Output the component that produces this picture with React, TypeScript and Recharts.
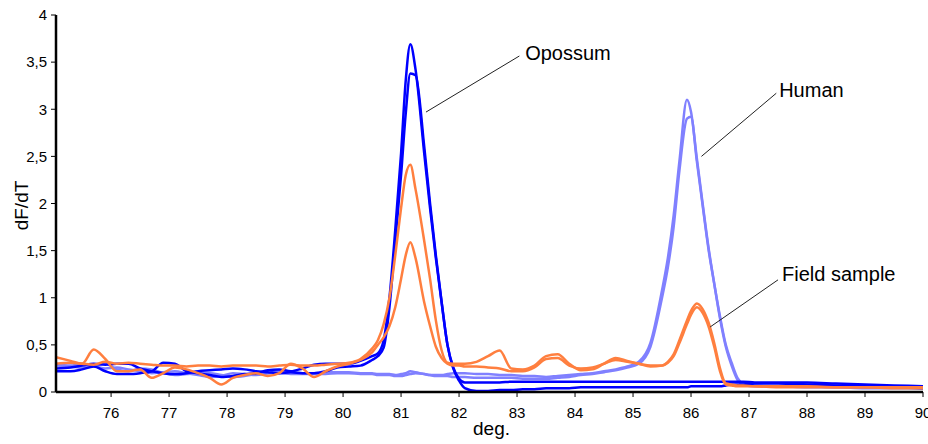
import React from 'react';
import { LineChart, Line, XAxis, YAxis, ReferenceLine, ReferenceDot, Label } from 'recharts';

const temps = [
  75.05, 75.3, 75.5, 75.7, 75.9, 76.1, 76.3, 76.5, 76.7, 76.9,
  77.1, 77.3, 77.5, 77.7, 77.9, 78.1, 78.3, 78.5, 78.7, 78.9,
  79.1, 79.3, 79.5, 79.7, 79.9, 80.1, 80.3, 80.5, 80.6, 80.7,
  80.8, 80.9, 81.0, 81.08, 81.16, 81.25, 81.4, 81.5, 81.6, 81.7,
  81.8, 81.9, 82.0, 82.1, 82.3, 82.5, 82.7, 82.9, 83.1, 83.3,
  83.5, 83.7, 83.9, 84.1, 84.3, 84.5, 84.7, 84.9, 85.1, 85.3,
  85.5, 85.6, 85.7, 85.8, 85.93, 86.0, 86.1, 86.2, 86.3, 86.4,
  86.5, 86.6, 86.7, 86.8, 86.9, 87.1, 87.5, 88.0, 88.5, 89.0,
  89.5, 90.0,
];

const opossum1 = [
  0.22, 0.22, 0.24, 0.27, 0.22, 0.19, 0.19, 0.2, 0.22, 0.31,
  0.3, 0.22, 0.2, 0.18, 0.16, 0.17, 0.19, 0.2, 0.23, 0.24,
  0.22, 0.25, 0.29, 0.3, 0.3, 0.3, 0.33, 0.38, 0.41, 0.55,
  1.0, 1.72, 2.53, 3.3, 3.69, 3.42, 2.53, 1.95, 1.42, 0.95,
  0.5, 0.25, 0.12, 0.04, 0.01, 0.01, 0.02, 0.02, 0.03, 0.03,
  0.04, 0.04, 0.04, 0.05, 0.05, 0.05, 0.05, 0.05, 0.05, 0.05,
  0.05, 0.05, 0.05, 0.05, 0.05, 0.06, 0.06, 0.06, 0.06, 0.06,
  0.06, 0.07, 0.08, 0.08, 0.08, 0.09, 0.09, 0.08, 0.07, 0.06,
  0.05, 0.04,
];

const opossum2 = [
  0.25, 0.26, 0.28, 0.3, 0.29, 0.3, 0.3, 0.25, 0.22, 0.2,
  0.19, 0.2, 0.22, 0.23, 0.24, 0.25, 0.24, 0.22, 0.21, 0.2,
  0.21, 0.2, 0.2, 0.22, 0.26, 0.27, 0.28, 0.34, 0.38, 0.47,
  0.9, 1.6, 2.3, 2.95, 3.38, 3.36, 2.6, 2.0, 1.45, 0.95,
  0.5, 0.26, 0.14, 0.1, 0.1, 0.1, 0.1, 0.11, 0.11, 0.11,
  0.11, 0.11, 0.11, 0.11, 0.11, 0.11, 0.11, 0.11, 0.11, 0.11,
  0.11, 0.11, 0.11, 0.11, 0.11, 0.11, 0.11, 0.11, 0.11, 0.11,
  0.11, 0.11, 0.11, 0.11, 0.11, 0.1, 0.1, 0.1, 0.09, 0.08,
  0.07, 0.06,
];

const human1 = [
  0.28, 0.27, 0.26, 0.27, 0.25, 0.26, 0.24, 0.22, 0.2, 0.21,
  0.22, 0.2, 0.18, 0.16, 0.17, 0.2, 0.19, 0.18, 0.2, 0.22,
  0.21, 0.2, 0.2, 0.21, 0.21, 0.21, 0.2, 0.2, 0.19, 0.19,
  0.19, 0.18, 0.19, 0.2, 0.22, 0.21, 0.19, 0.18, 0.18, 0.18,
  0.19, 0.2, 0.2, 0.2, 0.19, 0.19, 0.18, 0.18, 0.17, 0.17,
  0.16, 0.17, 0.18, 0.19, 0.2, 0.22, 0.24, 0.27, 0.32, 0.52,
  1.08, 1.42, 1.87, 2.45, 3.1, 2.97, 2.48, 2.0, 1.54, 1.15,
  0.78, 0.48, 0.28, 0.13, 0.08, 0.06, 0.06, 0.05, 0.05, 0.04,
  0.04, 0.04,
];

const human2 = [
  0.3, 0.28, 0.3, 0.28, 0.3, 0.24, 0.22, 0.25, 0.24, 0.2,
  0.18, 0.19, 0.2, 0.2, 0.18, 0.16, 0.17, 0.19, 0.2, 0.2,
  0.19, 0.19, 0.19, 0.19, 0.2, 0.2, 0.19, 0.19, 0.18, 0.18,
  0.18, 0.17, 0.17, 0.18, 0.19, 0.2, 0.19, 0.18, 0.17, 0.17,
  0.17, 0.16, 0.16, 0.16, 0.15, 0.15, 0.15, 0.15, 0.14, 0.14,
  0.14, 0.15, 0.16, 0.18, 0.19, 0.21, 0.23, 0.26, 0.3, 0.48,
  1.0, 1.32, 1.75, 2.35, 2.9, 2.92, 2.45, 1.98, 1.52, 1.15,
  0.8, 0.5, 0.31, 0.15, 0.09, 0.07, 0.06, 0.06, 0.05, 0.05,
  0.05, 0.04,
];

const field1 = [
  0.3, 0.31, 0.3, 0.29, 0.32, 0.3, 0.31, 0.3, 0.29, 0.28,
  0.28, 0.27, 0.28, 0.28, 0.27, 0.28, 0.28, 0.28, 0.27, 0.28,
  0.29, 0.28, 0.28, 0.29, 0.3, 0.31, 0.35, 0.46, 0.55, 0.72,
  1.0, 1.45, 1.95, 2.3, 2.41, 2.15, 1.6, 1.2, 0.76, 0.44,
  0.31, 0.3, 0.3, 0.3, 0.32, 0.38, 0.44, 0.25, 0.24, 0.28,
  0.38, 0.4, 0.3, 0.23, 0.24, 0.3, 0.36, 0.33, 0.3, 0.27,
  0.28, 0.32, 0.4, 0.55, 0.76, 0.86, 0.94, 0.88, 0.74, 0.52,
  0.25, 0.09, 0.08, 0.07, 0.07, 0.06, 0.06, 0.06, 0.05, 0.05,
  0.05, 0.05,
];

const field2 = [
  0.37, 0.33, 0.3, 0.45, 0.35, 0.22, 0.22, 0.24, 0.15, 0.2,
  0.26, 0.24, 0.2, 0.15, 0.08, 0.15, 0.18, 0.2, 0.17, 0.2,
  0.3, 0.25, 0.16, 0.22, 0.27, 0.3, 0.34, 0.42, 0.5, 0.58,
  0.7, 0.9, 1.2, 1.45, 1.59, 1.42, 0.95, 0.7, 0.48, 0.36,
  0.3, 0.28, 0.28, 0.27, 0.27, 0.26, 0.25, 0.22, 0.22, 0.26,
  0.35, 0.36, 0.28, 0.25, 0.26, 0.3, 0.34, 0.32, 0.3, 0.28,
  0.28, 0.31, 0.38, 0.52, 0.72, 0.82, 0.9, 0.84, 0.7, 0.48,
  0.22, 0.08, 0.07, 0.06, 0.06, 0.06, 0.05, 0.05, 0.05, 0.05,
  0.04, 0.04,
];

const xTicks = [76, 77, 78, 79, 80, 81, 82, 83, 84, 85, 86, 87, 88, 89, 90];
const yTicks = [0, 0.5, 1, 1.5, 2, 2.5, 3, 3.5, 4];

const annotationNames = ['Opossum', 'Human', 'Field sample'];
const leaderStarts = [[81.43, 2.97], [86.18, 2.5], [86.33, 0.69]];
const leaderEnds = [[83.04, 3.565], [87.47, 3.17], [87.5, 1.19]];
const labelAnchors = [[83.14, 3.6], [87.52, 3.2], [87.57, 1.247]];

const data = temps.map((t, i) => ({
  t,
  o1: opossum1[i],
  o2: opossum2[i],
  h1: human1[i],
  h2: human2[i],
  f1: field1[i],
  f2: field2[i],
}));

const FONT = '"Liberation Sans", Arial, Helvetica, sans-serif';
const DARK_BLUE = '#0000FF';
const LIGHT_BLUE = '#8080FF';
const ORANGE = '#FF7F3F';

const YTitle = (props: any) => {
  const vb = props.viewBox || { x: 0, y: 15, width: 56, height: 377 };
  const cx = vb.x + 21;
  const cy = vb.y + vb.height / 2 + 2;
  return (
    <text
      x={cx}
      y={cy}
      transform={`rotate(-90 ${cx} ${cy})`}
      textAnchor="middle"
      dominantBaseline="central"
      fontSize={19}
      fontFamily={FONT}
      fill="#000"
    >
      dF/dT
    </text>
  );
};

const XTitle = (props: any) => {
  const vb = props.viewBox || { x: 56, y: 392, width: 867, height: 52 };
  return (
    <text
      x={vb.x + vb.width / 2 + 2}
      y={vb.y + 43}
      textAnchor="middle"
      fontSize={19}
      fontFamily={FONT}
      fill="#000"
    >
      deg.
    </text>
  );
};

const makeTextShape = (txt: string) => (p: any) => (
  <text
    x={p.cx}
    y={p.cy}
    dominantBaseline="central"
    textAnchor="start"
    fontSize={20}
    fontFamily={FONT}
    fill="#000"
  >
    {txt}
  </text>
);

export default function App() {
  return (
    <div style={{ position: 'absolute', left: 0, top: 0, width: 928, height: 444, background: '#fff' }}>
      <LineChart
        width={928}
        height={444}
        data={data}
        margin={{ top: 15, right: 5, bottom: 0, left: 0 }}
      >
        <XAxis
          dataKey="t"
          type="number"
          domain={[75.05, 90]}
          ticks={xTicks}
          allowDataOverflow
          height={52}
          tickSize={5}
          tickMargin={10}
          axisLine={{ stroke: '#000', strokeWidth: 2.5 }}
          tickLine={{ stroke: '#000' }}
          tick={{ fill: '#000', fontSize: 15, fontFamily: FONT }}
          interval={0}
        >
          <Label content={<XTitle />} />
        </XAxis>
        <YAxis
          type="number"
          domain={[0, 4]}
          ticks={yTicks}
          allowDataOverflow
          width={56}
          tickSize={5}
          tickMargin={4}
          axisLine={{ stroke: '#000', strokeWidth: 2.5 }}
          tickLine={{ stroke: '#000' }}
          tick={{ fill: '#000', fontSize: 15, fontFamily: FONT }}
          tickFormatter={(v: number) => String(v).replace('.', ',')}
          interval={0}
        >
          <Label content={<YTitle />} />
        </YAxis>
        <Line type="monotone" dataKey="h2" stroke={LIGHT_BLUE} strokeWidth={2.5} dot={false} isAnimationActive={false} />
        <Line type="monotone" dataKey="h1" stroke={LIGHT_BLUE} strokeWidth={2.5} dot={false} isAnimationActive={false} />
        <Line type="monotone" dataKey="o2" stroke={DARK_BLUE} strokeWidth={2.5} dot={false} isAnimationActive={false} />
        <Line type="monotone" dataKey="o1" stroke={DARK_BLUE} strokeWidth={2.5} dot={false} isAnimationActive={false} />
        <Line type="monotone" dataKey="f2" stroke={ORANGE} strokeWidth={2.5} dot={false} isAnimationActive={false} />
        <Line type="monotone" dataKey="f1" stroke={ORANGE} strokeWidth={2.5} dot={false} isAnimationActive={false} />
        {annotationNames.map((name, i) => (
          <ReferenceLine
            key={`l-${name}`}
            segment={[
              { x: leaderStarts[i][0], y: leaderStarts[i][1] },
              { x: leaderEnds[i][0], y: leaderEnds[i][1] },
            ]}
            stroke="#222"
            strokeWidth={1}
          />
        ))}
        {annotationNames.map((name, i) => (
          <ReferenceDot
            key={`t-${name}`}
            x={labelAnchors[i][0]}
            y={labelAnchors[i][1]}
            r={1}
            shape={makeTextShape(name)}
          />
        ))}
      </LineChart>
    </div>
  );
}
